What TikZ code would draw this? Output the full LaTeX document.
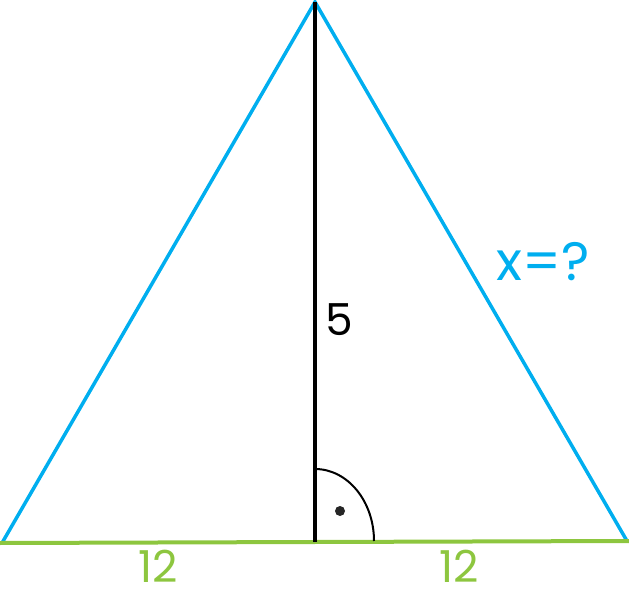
\documentclass[tikz,border=0pt]{standalone}
\usepackage{fontspec}
\setmainfont{Poppins}
\usepackage{xcolor}
\definecolor{sideblue}{RGB}{0,174,239}
\definecolor{basegreen}{RGB}{141,198,63}
\tikzset{side/.style={draw=sideblue,line width=3.5pt},
 base/.style={draw=basegreen,line width=4pt},
 height/.style={draw=black,line width=4pt},
 label/.style={font=\fontsize{44}{48}\selectfont,inner sep=0pt},
 }

\begin{document}
\begin{tikzpicture}[x=1pt,y=-1pt]
        \useasboundingbox (0,0) rectangle (629,593);
        \coordinate (top) at (315,2);
        \coordinate (left) at (2,543);
        \coordinate (right) at (627,541);
        \coordinate (foot) at (315,542);
        \coordinate (bl) at (0,543);
        \coordinate (br) at (629,541);

        \draw[side] (left) -- (top) -- (right);
        \draw[base] (bl) -- (br);
        \draw[height] (top) -- (foot);
        \draw[line width=2pt] ([yshift=1pt]foot) ++(59,0) arc[start angle=0,end angle=-90,x radius=59,y radius=72];
        \fill[black!85] (340,511) circle (5);

        \node[label] (h) at (339,320) {5};
        \node[label,font=\fontsize{54}{58}\selectfont,text=sideblue] (x) at (543,262) {x=?};
        \node[label,text=basegreen] (a) at (158,566) {12};
        \node[label,text=basegreen] (b) at (459,566) {12};
\end{tikzpicture}
\end{document}
